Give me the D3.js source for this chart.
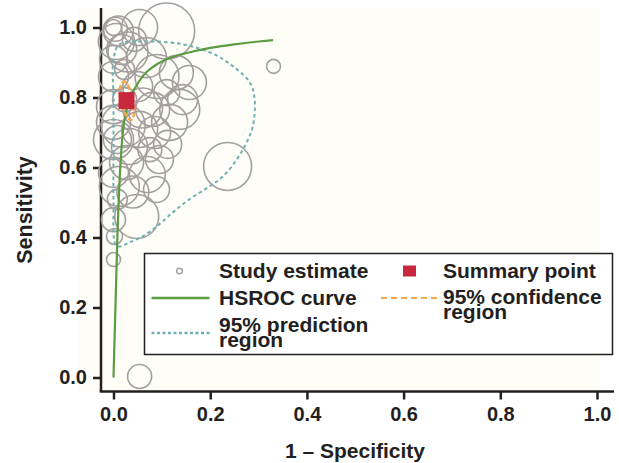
<!DOCTYPE html>
<html>
<head>
<meta charset="utf-8">
<script src="https://cdn.jsdelivr.net/npm/d3@7"></script>
<style>
  body { margin: 0; background: #ffffff; }
  svg { display: block; font-family: "Liberation Sans", Arial, Helvetica, sans-serif; font-weight: bold; }
</style>
</head>
<body>
<div id="chart"></div>
<script>
// study estimates: 1 - specificity, sensitivity, study size
const studyFpr = [0.000, 0.004, 0.010, 0.054, 0.110, 0.017, 0.068, 0.130, 0.000, 0.050,
                  0.110, 0.143, 0.000, 0.081, 0.000, 0.054, 0.116, 0.033, 0.000, 0.027,
                  0.012, 0.089, 0.048, 0.000, 0.002, 0.000, 0.054, 0.236, 0.331, 0.157,
                  0.137, 0.023, 0.008, 0.075, 0.043, 0.000, 0.095, 0.008, 0.023, 0.000,
                  0.112, 0.030, 0.090, 0.060, 0.020, 0.070, 0.040, 0.006, 0.085]
const studySens = [1.000, 0.995, 0.990, 1.000, 0.990, 0.937, 0.914, 0.871, 0.860, 0.831,
                   0.814, 0.794, 0.774, 0.766, 0.729, 0.709, 0.729, 0.660, 0.586, 0.614,
                   0.546, 0.537, 0.460, 0.451, 0.403, 0.337, 0.003, 0.603, 0.889, 0.843,
                   0.766, 0.794, 0.680, 0.651, 0.966, 0.909, 0.623, 0.509, 0.880, 0.680,
                   0.666, 0.930, 0.860, 0.770, 0.720, 0.580, 0.530, 0.960, 0.700]
const studySize = [64, 144, 225, 324, 784, 225, 400, 289, 225, 225,
                   169, 225, 289, 289, 289, 324, 324, 324, 225, 289,
                   400, 169, 484, 144, 64, 49, 144, 576, 49, 289,
                   400, 144, 196, 144, 144, 196, 196, 100, 100, 400,
                   196, 400, 484, 400, 484, 324, 256, 324, 256]

// HSROC curve
const curveFpr  = [0.000, 0.002, 0.004, 0.006, 0.008, 0.010, 0.014, 0.018, 0.022, 0.028,
                   0.035, 0.050, 0.070, 0.090, 0.120, 0.160, 0.200, 0.250, 0.300, 0.330]
const curveSens = [0.000, 0.100, 0.200, 0.300, 0.400, 0.480, 0.600, 0.680, 0.730, 0.770,
                   0.800, 0.840, 0.875, 0.895, 0.915, 0.930, 0.942, 0.952, 0.960, 0.964]

// summary point
const summaryFpr = 0.027
const summarySens = 0.791

// 95% confidence region
const confFpr  = [0.022, 0.030, 0.036, 0.040, 0.042, 0.036, 0.028, 0.020, 0.014, 0.014]
const confSens = [0.845, 0.835, 0.810, 0.780, 0.750, 0.735, 0.745, 0.770, 0.800, 0.830]

// 95% prediction region
const predFpr  = [0.004, 0.000, 0.000, 0.000, 0.000, 0.012, 0.075, 0.147, 0.209, 0.250,
                  0.282, 0.292, 0.288, 0.275, 0.255, 0.226, 0.195, 0.157, 0.122, 0.089,
                  0.060, 0.033, 0.012]
const predSens = [0.380, 0.509, 0.651, 0.794, 0.909, 0.951, 0.960, 0.951, 0.923, 0.886,
                  0.843, 0.794, 0.717, 0.671, 0.623, 0.574, 0.543, 0.509, 0.471, 0.431,
                  0.403, 0.386, 0.374]

const xTicks = [0, 0.2, 0.4, 0.6, 0.8, 1.0]
const yTicks = [0, 0.2, 0.4, 0.6, 0.8, 1.0]

const legendLeft = [
  { type: "circle", label: ["Study estimate"] },
  { type: "curve", label: ["HSROC curve"] },
  { type: "pred", label: ["95% prediction", "region"] }
]
const legendRight = [
  { type: "summary", label: ["Summary point"] },
  { type: "conf", label: ["95% confidence", "region"] }
]

const svgWidth = 619
const svgHeight = 463

const ink = "#231f20"
const colors = {
  circle: "#a59e9f",
  curve: "#5a9c42",
  pred: "#6fb1b3",
  conf: "#f6a84a",
  summary: "#c8283e"
}

const svg = d3.select("#chart").append("svg")
    .attr("width", svgWidth)
    .attr("height", svgHeight)

const x = d3.scaleLinear().domain([0, 1]).range([113.5, 597])
const y = d3.scaleLinear().domain([0, 1]).range([377.5, 27.5])
const r = d3.scaleSqrt().domain([0, d3.max(studySize)]).range([0, 28])

// faint panel background
svg.append("rect")
    .attr("x", 78).attr("y", 8)
    .attr("width", 521).attr("height", 383)
    .attr("fill", "#fefdf7")

// axes
const axisY = 391.5
const axisX = 101

svg.append("g")
    .attr("transform", `translate(0, ${axisY})`)
    .call(d3.axisBottom(x).tickValues(xTicks).tickFormat(d3.format(".1f")).tickSize(8).tickPadding(7))
svg.append("g")
    .attr("transform", `translate(${axisX}, 0)`)
    .call(d3.axisLeft(y).tickValues(yTicks).tickFormat(d3.format(".1f")).tickSize(8).tickPadding(6))

svg.selectAll(".domain").remove()
svg.selectAll(".tick line").attr("stroke", ink).attr("stroke-width", 2.5)
svg.selectAll(".tick text")
    .attr("fill", ink)
    .style("font-size", "20px")
    .style("font-weight", "bold")
    .style("font-family", "'Liberation Sans', Arial, sans-serif")

svg.append("line")
    .attr("x1", axisX - 1.25).attr("x2", 614)
    .attr("y1", axisY).attr("y2", axisY)
    .attr("stroke", ink).attr("stroke-width", 2.5)
svg.append("line")
    .attr("x1", axisX).attr("x2", axisX)
    .attr("y1", 8).attr("y2", axisY)
    .attr("stroke", ink).attr("stroke-width", 2.5)

svg.append("text")
    .attr("x", 355).attr("y", 458)
    .attr("text-anchor", "middle")
    .attr("fill", ink)
    .style("font-size", "21px")
    .text("1 \u2013 Specificity")

svg.append("text")
    .attr("transform", "translate(32, 210) rotate(-90)")
    .attr("text-anchor", "middle")
    .attr("fill", ink)
    .style("font-size", "21.5px")
    .text("Sensitivity")

// study circles
const studies = studyFpr.map((f, i) => ({ fpr: f, sens: studySens[i], n: studySize[i] }))
svg.append("g").selectAll("circle")
    .data(studies)
    .enter()
    .append("circle")
    .attr("cx", d => x(d.fpr))
    .attr("cy", d => y(d.sens))
    .attr("r", d => r(d.n))
    .attr("fill", "none")
    .attr("stroke", colors.circle)
    .attr("stroke-width", 1.6)

// prediction region
const pred = predFpr.map((f, i) => [f, predSens[i]])
svg.append("path")
    .attr("d", d3.line().x(d => x(d[0])).y(d => y(d[1])).curve(d3.curveCatmullRomClosed)(pred))
    .attr("fill", "none")
    .attr("stroke", colors.pred)
    .attr("stroke-width", 2)
    .attr("stroke-dasharray", "3.5,3")

// HSROC curve
const curve = curveFpr.map((f, i) => [f, curveSens[i]])
svg.append("path")
    .attr("d", d3.line().x(d => x(d[0])).y(d => y(d[1])).curve(d3.curveMonotoneY)(curve))
    .attr("fill", "none")
    .attr("stroke", colors.curve)
    .attr("stroke-width", 2.2)

// confidence region
const conf = confFpr.map((f, i) => [f, confSens[i]])
svg.append("path")
    .attr("d", d3.line().x(d => x(d[0])).y(d => y(d[1])).curve(d3.curveCatmullRomClosed)(conf))
    .attr("fill", "none")
    .attr("stroke", colors.conf)
    .attr("stroke-width", 2.5)
    .attr("stroke-dasharray", "5,2")

// summary point
svg.append("rect")
    .attr("x", x(summaryFpr) - 8)
    .attr("y", y(summarySens) - 8.5)
    .attr("width", 16)
    .attr("height", 17)
    .attr("fill", colors.summary)

// legend
const legendG = svg.append("g")
legendG.append("rect")
    .attr("x", 144.5).attr("y", 253.5)
    .attr("width", 468).attr("height", 101)
    .attr("fill", "#ffffff")
    .attr("stroke", ink)
    .attr("stroke-width", 1.5)

const drawKey = (g, type, kx, ky) => {
  if (type === "circle") {
    g.append("circle").attr("cx", kx + 28).attr("cy", ky).attr("r", 2.8)
        .attr("fill", "none").attr("stroke", colors.circle).attr("stroke-width", 1.4)
  } else if (type === "summary") {
    g.append("rect").attr("x", kx + 22).attr("y", ky - 5.5).attr("width", 13).attr("height", 11)
        .attr("fill", colors.summary)
  } else {
    const style = {
      curve: [colors.curve, null, 2.5],
      pred: [colors.pred, "3,2.5", 2.5],
      conf: [colors.conf, "6,4", 2.2]
    }[type]
    g.append("line").attr("x1", kx).attr("x2", kx + 58).attr("y1", ky).attr("y2", ky)
        .attr("stroke", style[0]).attr("stroke-width", style[2])
        .attr("stroke-dasharray", style[1])
  }
}

const legendRows = [[legendLeft, 151.5, 219], [legendRight, 381, 443]]
const rowKeyY = [[271, 298, 333], [271, 298]]
const rowTextY = [[278, 305, 332], [278, 304]]

legendRows.forEach(([items, kx, tx], c) => {
  items.forEach((item, i) => {
    drawKey(legendG, item.type, kx, rowKeyY[c][i])
    const t = legendG.append("text")
        .attr("x", tx).attr("y", rowTextY[c][i])
        .attr("fill", ink)
        .style("font-size", "21px")
    item.label.forEach((line, j) => {
      t.append("tspan").attr("x", tx).attr("dy", j === 0 ? 0 : 15).text(line)
    })
  })
})
</script>
</body>
</html>
